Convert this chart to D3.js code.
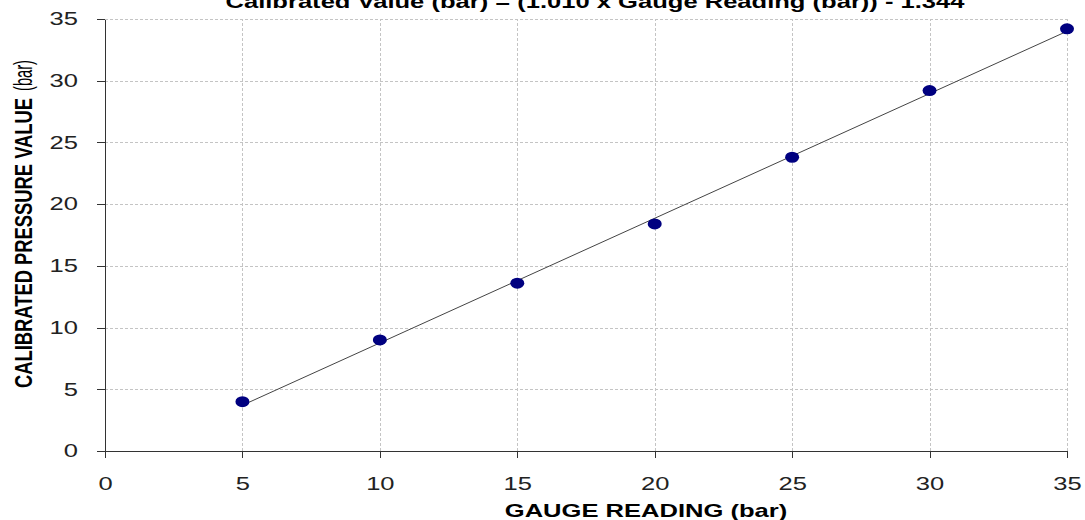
<!DOCTYPE html>
<html>
<head>
  <meta charset="UTF-8">
  <style>
    body { margin: 0; background: #fff; }
    svg { display: block; font-family: Arial, 'Liberation Sans', sans-serif; }
    .grid line { stroke: #c4c4c4; stroke-dasharray: 3,2; stroke-width: 1; }
    .axis path, .axis line { stroke: #333; stroke-width: 1; shape-rendering: crispEdges; }
    .axis text { font-size: 18px; fill: #222; }
  </style>
</head>
<body>
<script src="https://d3js.org/d3.v7.min.js"></script>
<script>
  // gauge readings vs calibrated values (bar)
  const gauge = [5, 10, 15, 20, 25, 30, 35];
  const calibrated = [4.0, 9.0, 13.6, 18.4, 23.8, 29.2, 34.2];
  const xTicks = [0, 5, 10, 15, 20, 25, 30, 35];
  const yTicks = [0, 5, 10, 15, 20, 25, 30, 35];
  // trend line from the title
  const slope = 1.010, intercept = -1.344;

  const width = 1085, height = 520;
  const m = {left: 105, right: 18, top: 19, bottom: 69};
  const stretch = 1.42; // the reference's text is widened horizontally

  const svg = d3.select("body").append("svg")
    .attr("width", width)
    .attr("height", height);

  const x = d3.scaleLinear().domain([0, 35]).range([m.left, width - m.right]);
  const y = d3.scaleLinear().domain([0, 35]).range([height - m.bottom, m.top]);

  // dashed gridlines
  const grid = svg.append("g").attr("class", "grid");
  grid.selectAll(".gy").data(yTicks.slice(1)).enter().append("line")
    .attr("x1", x(0)).attr("x2", x(35))
    .attr("y1", d => Math.round(y(d)) + 0.5).attr("y2", d => Math.round(y(d)) + 0.5);
  grid.selectAll(".gx").data(xTicks.slice(1)).enter().append("line")
    .attr("y1", y(0)).attr("y2", y(35))
    .attr("x1", d => Math.round(x(d)) + 0.5).attr("x2", d => Math.round(x(d)) + 0.5);

  // axes
  const xAxis = svg.append("g").attr("class", "axis")
    .attr("transform", "translate(0," + y(0) + ")")
    .call(d3.axisBottom(x).tickValues(xTicks).tickSize(7).tickPadding(19).tickSizeOuter(0));
  xAxis.selectAll("text").attr("transform", "scale(" + stretch + ",1)");

  const yAxis = svg.append("g").attr("class", "axis")
    .attr("transform", "translate(" + x(0) + ",0)")
    .call(d3.axisLeft(y).tickValues(yTicks).tickSize(8).tickSizeOuter(0));
  yAxis.selectAll("text")
    .attr("x", -27 / stretch)
    .attr("transform", "scale(" + stretch + ",1)");

  // trend line
  svg.append("line")
    .attr("x1", x(gauge[0])).attr("y1", y(slope * gauge[0] + intercept))
    .attr("x2", x(gauge[gauge.length - 1])).attr("y2", y(slope * gauge[gauge.length - 1] + intercept))
    .attr("stroke", "#444").attr("stroke-width", 1);

  // points
  svg.append("g").selectAll("ellipse")
    .data(gauge).enter().append("ellipse")
    .attr("cx", d => x(d))
    .attr("cy", (d, i) => y(calibrated[i]))
    .attr("rx", 7).attr("ry", 5.5)
    .attr("fill", "#000080");

  // title (partly cut off at top, as in the reference)
  svg.append("text")
    .attr("transform", "translate(595,8) scale(" + stretch + ",1)")
    .attr("text-anchor", "middle")
    .style("font-size", "18px").style("font-weight", "bold")
    .text("Calibrated Value (bar) = (1.010 x Gauge Reading (bar)) - 1.344");

  // x label
  svg.append("text")
    .attr("transform", "translate(646,517) scale(" + stretch + ",1)")
    .attr("text-anchor", "middle")
    .style("font-size", "18px").style("font-weight", "bold")
    .text("GAUGE READING (bar)");

  // y label
  const yl = svg.append("g")
    .attr("transform", "translate(32,0) scale(" + stretch + ",1) rotate(-90)");
  yl.append("text")
    .attr("x", -388).attr("y", 0)
    .attr("textLength", 290).attr("lengthAdjust", "spacingAndGlyphs")
    .style("font-size", "17px").style("font-weight", "bold")
    .text("CALIBRATED PRESSURE VALUE");
  yl.append("text")
    .attr("x", -91).attr("y", 0)
    .attr("textLength", 31).attr("lengthAdjust", "spacingAndGlyphs")
    .style("font-size", "18px")
    .text("(bar)");
</script>
</body>
</html>
